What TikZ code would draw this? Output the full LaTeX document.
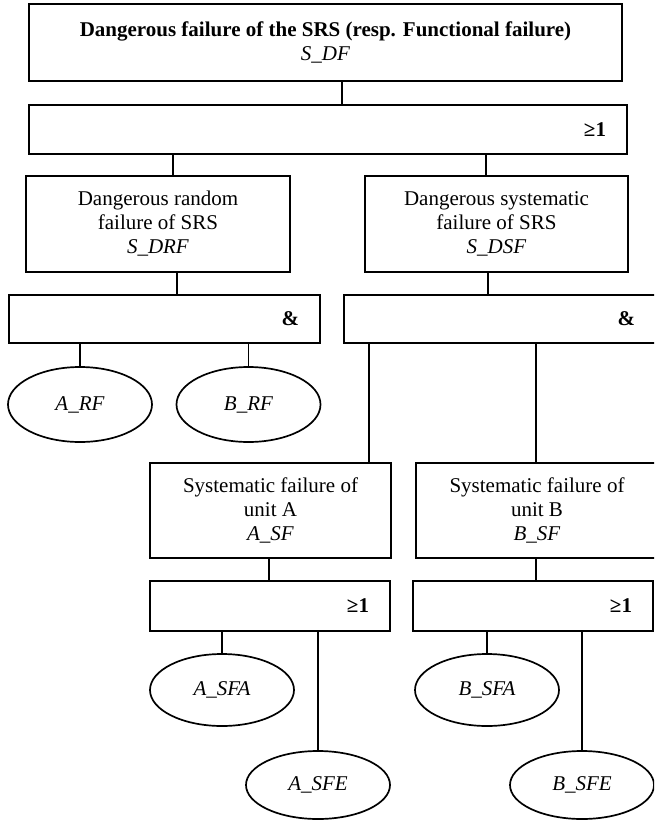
\documentclass[tikz,border=0pt]{standalone}
\usepackage{fontspec}
\setmainfont{Liberation Serif}
\usetikzlibrary{shapes.geometric}

\begin{document}
\begin{tikzpicture}[
  x=1pt, y=-1pt, line width=1.7pt,
  font=\fontsize{21}{24}\selectfont,
  event/.style={rectangle, draw, align=center, inner sep=0pt},
  gate/.style={rectangle, draw, inner sep=0pt,
    label={[anchor=east, inner sep=0pt, xshift=-21pt]east:\textbf{#1}}},
  basic/.style={ellipse, draw, inner sep=0pt, minimum width=144pt, minimum height=72pt},
]
\useasboundingbox (0,0) rectangle (654,821);
\clip (0,0) rectangle (654,821);

\node[event, minimum width=593pt, minimum height=77pt] (df) at (325.5,42.5)
  {\textbf{Dangerous failure of the SRS (resp. Functional failure)}\\\textit{S\_DF}};
\node[gate=≥1, minimum width=598pt, minimum height=49pt] (or1) at (328,129.5) {};

\node[event, minimum width=264pt, minimum height=96pt] (drf) at (158,224)
  {Dangerous random\\failure of SRS\\\textit{S\_DRF}};
\node[event, minimum width=263pt, minimum height=96pt] (dsf) at (496.5,224)
  {Dangerous systematic\\failure of SRS\\\textit{S\_DSF}};

\node[gate=\&, minimum width=311pt, minimum height=48pt] (and1) at (164.5,319) {};
\node[gate=\&, minimum width=312pt, minimum height=48pt] (and2) at (500,319) {};

\node[basic, minimum height=75pt] (arf) at (80,404.5) {\textit{A\_RF}};
\node[basic, minimum height=75pt] (brf) at (248.5,404.5) {\textit{B\_RF}};

\node[event, minimum width=241pt, minimum height=95pt] (asf) at (270.5,510.5)
  {Systematic failure of\\unit A\\\textit{A\_SF}};
\node[event, minimum width=242pt, minimum height=95pt] (bsf) at (537,510.5)
  {Systematic failure of\\unit B\\\textit{B\_SF}};

\node[gate=≥1, minimum width=240pt, minimum height=50pt] (or2) at (270,606) {};
\node[gate=≥1, minimum width=240pt, minimum height=50pt] (or3) at (533,606) {};

\node[basic] (asfa) at (222,690) {\textit{A\_SFA}};
\node[basic, minimum height=68pt] (asfe) at (318,785) {\textit{A\_SFE}};
\node[basic] (bsfa) at (487,690) {\textit{B\_SFA}};
\node[basic, minimum height=68pt] (bsfe) at (582,785) {\textit{B\_SFE}};

% connectors
\draw (df.south -| 342,0) -- (or1.north -| 342,0);
\draw (or1.south -| 173,0) -- (drf.north -| 173,0);
\draw (or1.south -| 486,0) -- (dsf.north -| 486,0);
\draw (drf.south -| 177,0) -- (and1.north -| 177,0);
\draw (dsf.south -| 488,0) -- (and2.north -| 488,0);
\draw (and1.south -| arf.north) -- (arf.north);
\draw (and1.south -| brf.north) -- (brf.north);
\draw (and2.south -| 369,0) -- (asf.north -| 369,0);
\draw (and2.south -| 536,0) -- (bsf.north -| 536,0);
\draw (asf.south -| 269,0) -- (or2.north -| 269,0);
\draw (bsf.south -| 536,0) -- (or3.north -| 536,0);
\draw (or2.south -| asfa.north) -- (asfa.north);
\draw (or2.south -| asfe.north) -- (asfe.north);
\draw (or3.south -| bsfa.north) -- (bsfa.north);
\draw (or3.south -| bsfe.north) -- (bsfe.north);
\end{tikzpicture}
\end{document}
